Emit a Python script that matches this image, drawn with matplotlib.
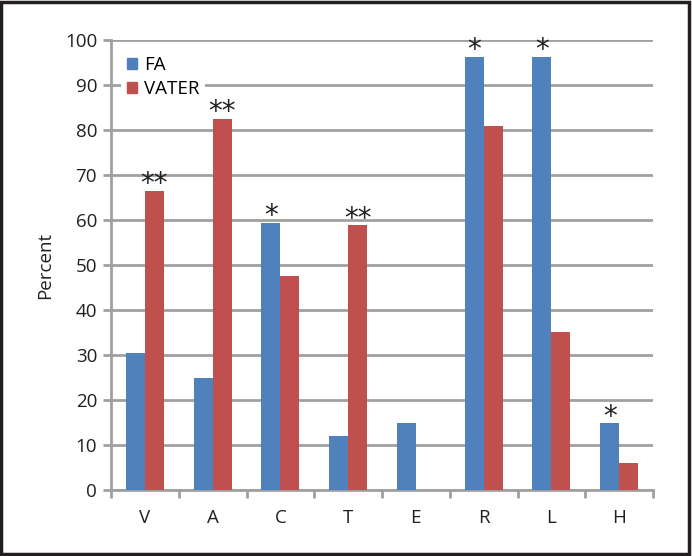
import matplotlib
matplotlib.use("Agg")
import matplotlib.pyplot as plt
from matplotlib.patches import Rectangle, Patch
import numpy as np

categories = ["V", "A", "C", "T", "E", "R", "L", "H"]
fa = [30.5, 25.0, 59.3, 12.0, 14.8, 96.3, 96.3, 14.8]
vater = [66.5, 82.5, 47.6, 58.8, 0.0, 80.8, 35.1, 5.9]
fa_marks = ["", "", "*", "", "", "*", "*", "*"]
vater_marks = ["**", "**", "", "**", "", "", "", ""]
series_names = ["FA", "VATER"]
yticks = list(range(0, 101, 10))

plt.rcParams['font.family'] = ['Open Sans', 'DejaVu Sans']

W, H = 692, 556
fig = plt.figure(figsize=(W / 100, H / 100), dpi=100)
ax = fig.add_axes([111 / W, 1 - 490 / H, (653 - 111) / W, (490 - 40) / H])

blue = "#4F81BD"
red = "#C0504D"
grid = "#A0A0A0"
txt = "#231F20"
fs = 13.5
x = np.arange(len(categories))
bw = 0.28
ax.bar(x - bw / 2, fa, width=bw, color=blue, zorder=3)
ax.bar(x + bw / 2, vater, width=bw, color=red, zorder=3)

for i in range(len(categories)):
    if fa_marks[i]:
        ax.text(x[i] - bw / 2, fa[i] - 1.6, fa_marks[i], ha="center", va="bottom",
                fontsize=20, family="DejaVu Sans", color=txt, zorder=4)
    if vater_marks[i]:
        ax.text(x[i] + bw / 2, vater[i] - 1.6, vater_marks[i], ha="center", va="bottom",
                fontsize=20, family="DejaVu Sans", color=txt, zorder=4)

ax.set_xlim(-0.5, len(categories) - 0.5)
ax.set_ylim(0, 100)
ax.set_yticks(yticks)
ax.set_yticklabels([str(v) for v in yticks], fontsize=fs, color=txt)
ax.yaxis.grid(True, color=grid, linewidth=2, zorder=0)
ax.set_axisbelow(True)

ax.set_xticks(x)
ax.set_xticklabels(categories, fontsize=fs, color=txt)
ax.tick_params(axis="x", length=0, pad=14)
ax.set_xticks(np.arange(-0.5, len(categories)), minor=True)
ax.tick_params(axis="x", which="minor", length=6, width=2, color=grid, direction="out")
ax.tick_params(axis="y", length=6, width=2, color=grid, direction="out", pad=4)

for s in ["top", "right"]:
    ax.spines[s].set_visible(False)
for s in ["left", "bottom"]:
    ax.spines[s].set_color(grid)
    ax.spines[s].set_linewidth(2)

ax.set_ylabel("Percent", fontsize=fs, color=txt, labelpad=8)

handles = [Patch(color=blue), Patch(color=red)]
leg = ax.legend(handles, series_names, loc="upper left", bbox_to_anchor=(0.002, 0.998),
                frameon=True, fontsize=fs, handlelength=0.55, handleheight=0.55,
                handletextpad=0.35, labelspacing=0.35, borderpad=0.3)
leg.get_frame().set_facecolor("white")
leg.get_frame().set_edgecolor("none")
leg.get_frame().set_alpha(1)
leg.set_zorder(5)

fig.patches.append(Rectangle((0.002, 0.003), 0.994, 0.994, transform=fig.transFigure,
                             fill=False, edgecolor=txt, linewidth=2.5))

fig.savefig("out.png", dpi=100)
